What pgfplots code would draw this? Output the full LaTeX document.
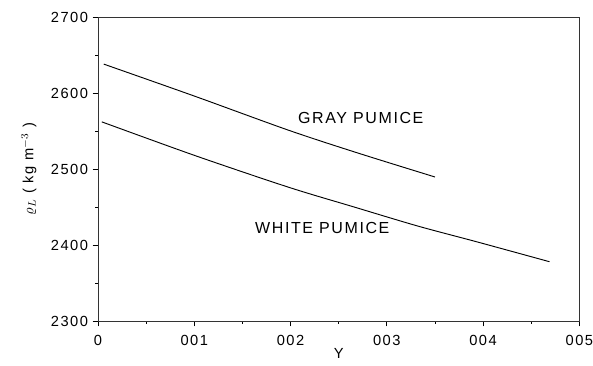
\documentclass[border=0pt]{standalone}
\usepackage{pgfplots}
\pgfplotsset{compat=1.18}
\usepackage{fontspec}
\setmainfont{Liberation Sans}[LetterSpace=10]
\begin{document}
\begin{tikzpicture}
\begin{axis}[
  name=a,
  scale only axis,
  width=361pt, height=228pt,
  xmin=0, xmax=0.05, ymin=2300, ymax=2700,
  scaled x ticks=false, scaled y ticks=false,
  xtick={0,0.01,0.02,0.03,0.04,0.05},
  xticklabels={0,001,002,003,004,005},
  ytick={2300,2400,2500,2600,2700},
  yticklabels={2300,2400,2500,2600,2700},
  minor x tick num=1, minor y tick num=1,
  xtick pos=bottom, ytick pos=left,
  tick align=outside,
  major tick length=4pt, minor tick length=2pt,
  tick style={black, line width=0.6pt},
  axis line style={line width=0.6pt, black!80},
  /pgf/number format/assume math mode=true,
  ticklabel style={font=\fontsize{11}{13}\selectfont},
  xticklabel style={yshift=-3pt},
  xlabel={Y},
  xlabel style={font=\fontsize{11}{13}\selectfont, yshift=5pt},
  ylabel={$\varrho_L$ ( kg m$^{-3}$ )},
  ylabel style={font=\fontsize{11}{13}\selectfont, yshift=4pt},
  clip=false,
]
\addplot[black, line width=0.7pt, smooth] coordinates {
(0.0006,2638) (0.01,2596) (0.0198,2551) (0.027,2521) (0.035,2489.5)};
\addplot[black, line width=0.7pt, smooth] coordinates {
(0.0004,2562) (0.01,2518) (0.0198,2476) (0.0266,2450) (0.0332,2425) (0.0394,2404) (0.0469,2378)};
\node[font=\fontsize{12}{14}\selectfont] at (axis cs:0.0273,2567) {GRAY PUMICE};
\node[font=\fontsize{12}{14}\selectfont] at (axis cs:0.0233,2422) {WHITE PUMICE};
\end{axis}
\pgfresetboundingbox
\path ([xshift=-73.5pt,yshift=-33.75pt]a.south west) rectangle ([xshift=10.25pt,yshift=12.75pt]a.north east);
\end{tikzpicture}
\end{document}
